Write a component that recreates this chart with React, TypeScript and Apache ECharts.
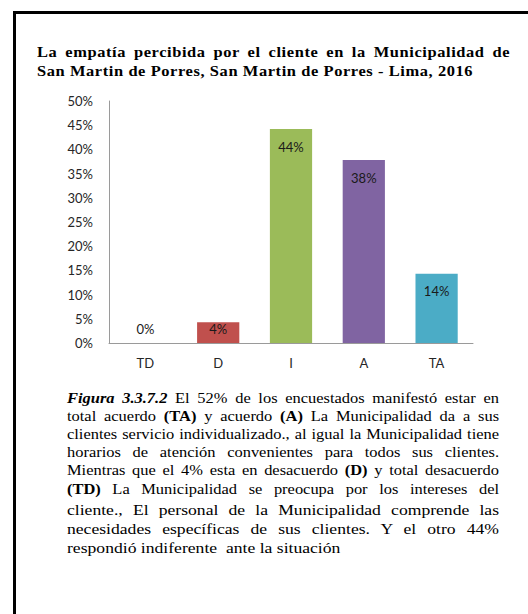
import React, { useEffect, useRef } from 'react';
import * as echarts from 'echarts';

const categories = ['TD', 'D', 'I', 'A', 'TA'];
const values = [0, 4.3, 44.2, 37.8, 14.3];
const barColors = ['#4F81BD', '#C0504D', '#9BBB59', '#8064A2', '#4BACC6'];
const yMin = 0;
const yMax = 50;
const yInterval = 5;

const titleLines = [
  'La empatía percibida por el cliente en la Municipalidad de',
  'San Martin de Porres, San Martin de Porres - Lima, 2016',
];

const B = (p: { children: React.ReactNode }) => <b>{p.children}</b>;

const captionLines: { content: React.ReactNode; top: number; size: number; last?: boolean }[] = [
  { content: <><b><i>Figura 3.3.7.2</i></b> El 52% de los encuestados manifestó estar en</>, top: 390, size: 14 },
  { content: <>total acuerdo <B>(TA)</B> y acuerdo <B>(A)</B> La Municipalidad da a sus</>, top: 408, size: 14 },
  { content: <>clientes servicio individualizado., al igual la Municipalidad tiene</>, top: 426, size: 14 },
  { content: <>horarios de atención convenientes para todos sus clientes.</>, top: 444, size: 14 },
  { content: <>Mientras que el 4% esta en desacuerdo <B>(D)</B> y total desacuerdo</>, top: 462, size: 14 },
  { content: <><B>(TD)</B> La Municipalidad se preocupa por los intereses del</>, top: 481, size: 14 },
  { content: <>cliente., El personal de la Municipalidad comprende las</>, top: 501, size: 15 },
  { content: <>necesidades específicas de sus clientes. Y el otro  44%</>, top: 520, size: 15 },
  { content: <>respondió indiferente  ante la situación</>, top: 539, size: 15, last: true },
];

const SCALE_X = 1.174;

export default function App() {
  const ref = useRef<HTMLDivElement>(null);

  useEffect(() => {
    if (!ref.current) return;
    const chart = echarts.init(ref.current, undefined, { renderer: 'svg' });
    const data = values.map((v, i) => {
      let label: any = { position: 'insideTop', distance: 11 };
      if (v === 0) label = { position: 'top', distance: 8 };
      else if (v < 6) label = { position: 'insideTop', distance: 0 };
      return { value: v, itemStyle: { color: barColors[i] }, label };
    });
    chart.setOption({
      animation: false,
      grid: { left: 109, top: 101, width: 364, height: 242 },
      xAxis: {
        type: 'category',
        data: categories,
        axisLine: { show: true, lineStyle: { color: '#9a9a9a', width: 1 } },
        axisTick: { show: false },
        axisLabel: { color: '#262626', fontFamily: 'Lato', fontSize: 13, margin: 13 },
      },
      yAxis: {
        type: 'value',
        min: yMin,
        max: yMax,
        interval: yInterval,
        axisLine: { show: true, lineStyle: { color: '#9a9a9a', width: 1 } },
        axisTick: { show: false },
        splitLine: { show: false },
        axisLabel: {
          color: '#262626',
          fontFamily: 'Lato',
          fontSize: 13,
          margin: 16,
          formatter: '{value}%',
        },
      },
      series: [
        {
          type: 'bar',
          data,
          barWidth: '58%',
          label: {
            show: true,
            color: '#1a1a1a',
            fontFamily: 'Lato',
            fontSize: 13,
            formatter: (p: any) => Math.round(p.value) + '%',
          },
        },
      ],
    });
    return () => chart.dispose();
  }, []);

  const serif = '"Liberation Serif", "Times New Roman", serif';

  return (
    <div style={{ position: 'absolute', left: 0, top: 0, width: 528, height: 614, background: '#fff', overflow: 'hidden' }}>
      <div ref={ref} style={{ position: 'absolute', left: 0, top: 0, width: 528, height: 390 }} />
      <div style={{ position: 'absolute', left: 13, top: 11, width: 515, height: 3, background: '#000' }} />
      <div style={{ position: 'absolute', left: 13, top: 11, width: 3, height: 603, background: '#000' }} />
      {titleLines.map((t, i) => (
        <div
          key={i}
          style={{
            position: 'absolute',
            left: 37,
            top: 44 + i * 18.5,
            width: 403,
            transform: `scaleX(${SCALE_X})`,
            transformOrigin: 'left top',
            fontFamily: serif,
            fontWeight: 'bold',
            fontSize: 14,
            lineHeight: '18px',
            letterSpacing: '0.5px',
            color: '#000',
            textAlign: 'justify',
            textAlignLast: i === 0 ? 'justify' : 'left',
            whiteSpace: 'nowrap',
          } as React.CSSProperties}
        >
          {t}
        </div>
      ))}
      {captionLines.map((l, i) => (
        <div
          key={i}
          style={{
            position: 'absolute',
            left: 67,
            top: l.top,
            width: 368,
            transform: `scaleX(${SCALE_X})`,
            transformOrigin: 'left top',
            fontFamily: serif,
            fontSize: l.size,
            lineHeight: '18px',
            color: '#000',
            textAlign: 'justify',
            textAlignLast: l.last ? 'left' : 'justify',
            whiteSpace: l.last ? 'pre' : 'normal',
          } as React.CSSProperties}
        >
          {l.content}
        </div>
      ))}
    </div>
  );
}
